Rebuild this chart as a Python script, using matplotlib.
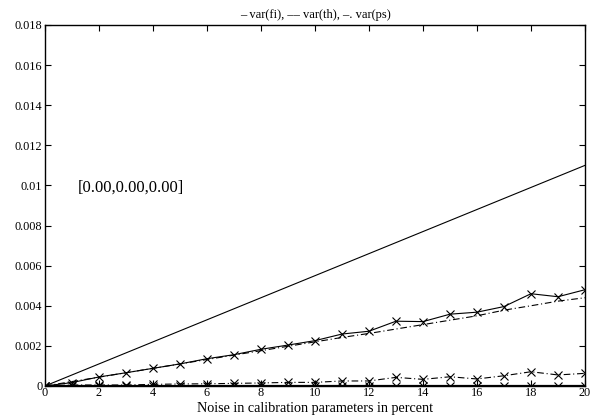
import matplotlib
matplotlib.use("Agg")
import matplotlib.pyplot as plt

plt.rcParams['font.family'] = ['Liberation Serif', 'DejaVu Serif']

noise = list(range(0, 21))
bound_x = [0, 20]
bound_y = [0.0, 0.011]
var_fi = [0.0, 0.00017, 0.00045, 0.00066, 0.00088, 0.0011, 0.00136, 0.00156, 0.00183,
          0.00204, 0.00226, 0.00259, 0.00273, 0.00323, 0.00321, 0.00358, 0.00368,
          0.00396, 0.0046, 0.00445, 0.0048]
var_fi_est = [0.0, 0.00022, 0.00044, 0.00066, 0.00088, 0.0011, 0.00132, 0.00154, 0.00176,
              0.00198, 0.0022, 0.00242, 0.00262, 0.00284, 0.00306, 0.00328, 0.0035,
              0.00378, 0.004, 0.00423, 0.0044]
var_ps = [0.0, 0.00005, 0.00005, 0.00005, 0.00008, 0.0001, 0.00011, 0.00013, 0.00015,
          0.00018, 0.00018, 0.00025, 0.00025, 0.00043, 0.00033, 0.00046, 0.00035,
          0.00051, 0.00071, 0.00055, 0.00063]
var_th = [0.0] * 21
xticks = list(range(0, 21, 2))
yticks = [0, 0.002, 0.004, 0.006, 0.008, 0.01, 0.012, 0.014, 0.016, 0.018]
ytick_labels = ['0', '0.002', '0.004', '0.006', '0.008', '0.01', '0.012', '0.014', '0.016', '0.018']
title = '\u2013 var(fi), \u2013\u2013 var(th), \u2013. var(ps)'
xlabel = 'Noise in calibration parameters in percent'
annotation = '[0.00,0.00,0.00]'

fig = plt.figure(figsize=(5.96, 4.2), dpi=100)
ax = fig.add_axes([0.0755, 0.081, 0.906, 0.8595])

lw = 0.8
ax.plot(bound_x, bound_y, color='black', lw=lw)
ax.plot(noise, var_fi, color='black', lw=lw, marker='x', ms=6, mew=0.8)
ax.plot(noise, var_fi_est, color='black', lw=lw, ls='-.', dashes=(6, 2.5, 1, 2.5))
ax.plot(noise, var_ps, color='black', lw=lw, marker='x', ms=6, mew=0.8, ls='-.',
        dashes=(6, 2.5, 1, 2.5))
ax.plot(noise, var_th, color='black', lw=1.6, marker='x', ms=6, mew=0.8)

ax.set_xlim(0, 20)
ax.set_ylim(0, 0.018)
ax.set_xticks(xticks)
ax.set_xticklabels([str(t) for t in xticks])
ax.set_yticks(yticks)
ax.set_yticklabels(ytick_labels)
ax.tick_params(direction='in', length=4, width=0.8, top=True, right=True,
               labelsize=8.8, pad=2, colors='black')
ax.tick_params(axis='x', pad=1)
for s in ax.spines.values():
    s.set_linewidth(1.0)

ax.set_title(title, fontsize=9, pad=5)
ax.set_xlabel(xlabel, fontsize=10.2, labelpad=2)
ax.text(1.22, 0.0099, annotation, fontsize=12, va='center', ha='left')

fig.savefig('out.png', dpi=100)
